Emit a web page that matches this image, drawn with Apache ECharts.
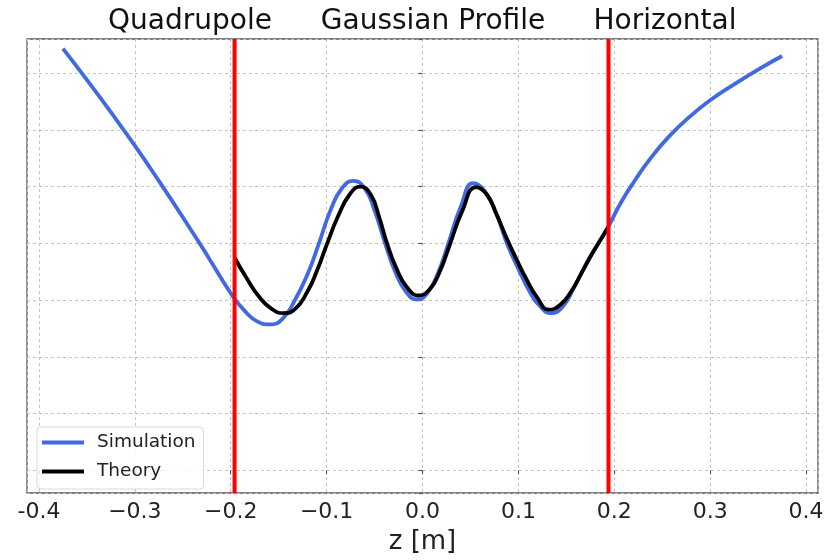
<!DOCTYPE html>
<html>
<head>
<meta charset="utf-8">
<script src="https://cdn.jsdelivr.net/npm/echarts@6/dist/echarts.min.js"></script>
<style>html,body{margin:0;padding:0;background:#fff}#c{width:837px;height:560px}</style>
</head>
<body>
<div id="c"></div>
<script>
// ---- data ----
var simZ = [-0.375,-0.35,-0.325,-0.30,-0.275,-0.25,-0.225,-0.20,-0.185,-0.172,-0.159,-0.146,-0.133,-0.12,-0.108,-0.096,-0.084,-0.072,-0.060,-0.050,-0.039,-0.028,-0.017,-0.006,0.005,0.016,0.027,0.040,0.053,0.065,0.077,0.088,0.100,0.111,0.122,0.134,0.146,0.158,0.170,0.182,0.194,0.207,0.222,0.237,0.257,0.28,0.30,0.325,0.35,0.375];
var simY = [7.43,6.88,6.31,5.72,5.10,4.46,3.80,3.12,2.80,2.62,2.57,2.67,3.00,3.45,4.00,4.58,4.97,5.10,4.96,4.58,4.00,3.48,3.14,3.01,3.12,3.47,4.00,4.65,5.06,4.92,4.52,4.00,3.55,3.17,2.90,2.77,2.88,3.22,3.62,3.96,4.30,4.72,5.12,5.48,5.88,6.25,6.52,6.80,7.06,7.30];
var thZ = [-0.196,-0.184,-0.170,-0.157,-0.145,-0.133,-0.120,-0.110,-0.100,-0.088,-0.076,-0.065,-0.054,-0.045,-0.037,-0.027,-0.016,-0.004,0.008,0.018,0.029,0.041,0.056,0.067,0.077,0.087,0.098,0.108,0.119,0.132,0.144,0.155,0.166,0.177,0.186,0.194];
var thY = [3.75,3.40,3.05,2.84,2.77,2.84,3.15,3.52,3.97,4.48,4.86,5.00,4.86,4.45,4.00,3.55,3.22,3.08,3.20,3.50,4.00,4.55,4.99,4.86,4.52,4.12,3.72,3.38,3.06,2.83,2.92,3.15,3.48,3.82,4.07,4.29];
var boundaries = [-0.196, 0.194];
var yRange = [-0.4, 7.6];
var regionNames = ["Quadrupole", "Gaussian Profile", "Horizontal"];
var xTickValues = [-0.4,-0.3,-0.2,-0.1,0.0,0.1,0.2,0.3,0.4];
var xTickLabels = ["-0.4","\u22120.3","\u22120.2","\u22120.1","0.0","0.1","0.2","0.3","0.4"];
var seriesNames = ["Simulation", "Theory"];

function pairs(xs, ys){ return xs.map(function(x,i){ return [x, ys[i]]; }); }

var FONT = "DejaVu Sans";
var chart = echarts.init(document.getElementById('c'), null, {renderer:'canvas'});
var gridLine = {show:true, lineStyle:{color:'#c4c4c4', width:1, type:[3,3]}};
var series = [
  {name:seriesNames[0], type:'line', data:pairs(simZ, simY), showSymbol:false, smooth:0.5,
   lineStyle:{color:'#4169E1', width:3.8}, itemStyle:{color:'#4169E1'}, z:2},
  {name:seriesNames[1], type:'line', data:pairs(thZ, thY), showSymbol:false, smooth:0.5,
   lineStyle:{color:'#000', width:3.8}, itemStyle:{color:'#000'}, z:3}
];
boundaries.forEach(function(b, i){
  series.push({name:'boundary'+i, type:'line', showSymbol:false, silent:true, z:4,
    data:[[b, yRange[0]], [b, yRange[1]]],
    lineStyle:{color:'#ff0000', width:4}, itemStyle:{color:'#ff0000'}});
});
var option = {
  animation:false,
  backgroundColor:'#fff',
  grid:{left:27, right:19, top:39, bottom:63, show:true, borderColor:'#555', borderWidth:1.3, backgroundColor:'transparent'},
  xAxis:{
    type:'value', min:-0.4125, max:0.4125, splitNumber:8,
    axisLine:{show:false},
    axisTick:{show:true, length:4, lineStyle:{color:'#555', width:1.2}},
    splitLine:gridLine,
    axisLabel:{
      showMinLabel:false, showMaxLabel:false, margin:8,
      fontFamily:FONT, fontSize:22, color:'#222',
      formatter:function(v){
        for (var i=0;i<xTickValues.length;i++){ if (Math.abs(v-xTickValues[i])<1e-6) return xTickLabels[i]; }
        return '';
      }
    },
    name:'z [m]', nameLocation:'middle', nameGap:36,
    nameTextStyle:{fontFamily:FONT, fontSize:26, color:'#222'}
  },
  yAxis:{
    type:'value', min:yRange[0], max:yRange[1], splitNumber:8,
    axisLine:{show:false},
    axisTick:{show:true, length:4, lineStyle:{color:'#555', width:1.2}},
    axisLabel:{show:false},
    splitLine:gridLine
  },
  legend:{
    orient:'vertical', left:37, top:427,
    data:seriesNames,
    icon:'rect', itemWidth:42, itemHeight:4, itemGap:10,
    padding:[6,8,8,5],
    backgroundColor:'rgba(255,255,255,0.85)', borderColor:'#d8d8d8', borderWidth:1, borderRadius:4,
    textStyle:{fontFamily:FONT, fontSize:18.5, color:'#222', padding:[0,0,0,8]}
  },
  graphic:[
    {type:'text', x:190, y:22, style:{text:regionNames[0], fontFamily:FONT, fontSize:28, fill:'#111', align:'center', verticalAlign:'middle'}},
    {type:'text', x:433, y:22, style:{text:regionNames[1], fontFamily:FONT, fontSize:28, fill:'#111', align:'center', verticalAlign:'middle'}},
    {type:'text', x:665, y:22, style:{text:regionNames[2], fontFamily:FONT, fontSize:28, fill:'#111', align:'center', verticalAlign:'middle'}}
  ],
  series:series
};
chart.setOption(option);
</script>
</body>
</html>
